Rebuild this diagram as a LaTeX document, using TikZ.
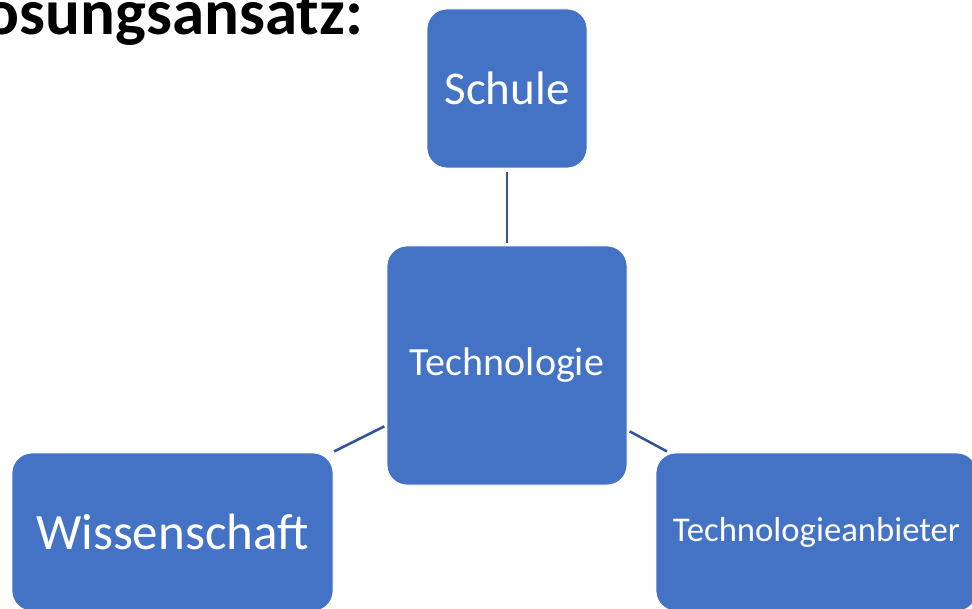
\documentclass[tikz,border=0pt]{standalone}
\usepackage{fontspec}
\setmainfont{Carlito}
\definecolor{boxblue}{HTML}{4472C4}
\definecolor{lineblue}{HTML}{2F5597}
\tikzset{
  blockbox/.style={rectangle, rounded corners=20pt, fill=boxblue, draw=white, line width=0.8pt,
    text=white, inner sep=0pt, align=center},
  link/.style={draw=lineblue, line width=2.5pt, shorten <=2.5pt, shorten >=2.5pt}
}
\begin{document}
\begin{tikzpicture}[x=1pt,y=-1pt]
\useasboundingbox (0,0) rectangle (972,609);
\clip (0,0) rectangle (972,609);
\node[anchor=base east, inner sep=0pt, font=\fontsize{65}{70}\selectfont\bfseries] (title) at (363,35) {Lösungsansatz:};
\node[blockbox, minimum width=160pt, minimum height=159pt, font=\fontsize{47}{50}\selectfont] (schule) at (507,88.5) {Schule};
\node[blockbox, minimum width=240pt, minimum height=239pt, font=\fontsize{40}{44}\selectfont] (tech) at (507,365.5) {Technologie};
\node[blockbox, minimum width=321pt, minimum height=158pt, font=\fontsize{51}{55}\selectfont] (wiss) at (172.5,532) {Wissenschaft};
\node[blockbox, minimum width=321pt, minimum height=158pt, font=\fontsize{34.7}{38}\selectfont] (anb) at (816.5,532) {Technologieanbieter};
\draw[link, shorten <=4pt, shorten >=3pt] (schule) -- (tech);
\draw[link] (tech) -- (wiss);
\draw[link] (tech) -- (anb);
\end{tikzpicture}
\end{document}
